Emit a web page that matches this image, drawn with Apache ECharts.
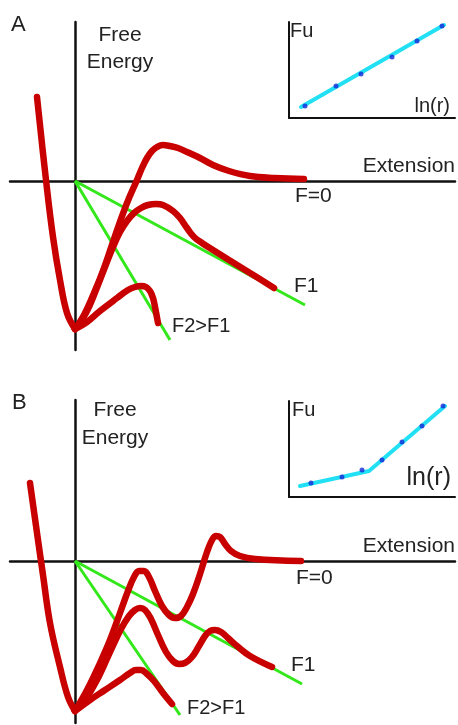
<!DOCTYPE html>
<html>
<head>
<meta charset="utf-8">
<script src="https://cdn.jsdelivr.net/npm/echarts@6/dist/echarts.min.js"></script>
<style>
  html, body { margin: 0; padding: 0; background: #fff; }
  #chart { width: 458px; height: 725px; }
</style>
</head>
<body>
<div id="chart"></div>
<script>
// panel A: free energy profiles (x = extension, y = free energy)
var wallA = [[-3.8, 8.4], [-2.9, 0.1], [-2.2, -5.6], [-1.5, -9.9], [-0.8, -13.2], [0, -14.8]];
var f0A = [[0, -14.8], [0.9, -13.4], [1.9, -11.2], [2.9, -8.7], [4.0, -5.5], [5.2, -2.2], [6.2, 0.1], [6.7, 1.3], [7.2, 2.3],
    [7.7, 3.0], [8.2, 3.4], [8.8, 3.6], [9.5, 3.5], [10.3, 3.3], [11.2, 2.9], [12.5, 2.3], [13.8, 1.6], [15.4, 1.0], [17.5, 0.5],
    [20, 0.3], [22.9, 0.2]];
var f1A = [[0, -14.8], [1.1, -13.2], [2.1, -10.9], [3.0, -8.6], [3.8, -6.6], [4.5, -5.1], [5.2, -4.0], [5.9, -3.2], [6.6, -2.7],
    [7.3, -2.4], [8.1, -2.3], [8.8, -2.4], [9.8, -3.0], [10.5, -3.7], [11.2, -4.7], [11.9, -5.6], [12.7, -6.2], [13.8, -6.9],
    [15.4, -7.9], [17.5, -9.2], [19.9, -10.7]];
var f2A = [[0, -14.8], [1.2, -14.1], [2.5, -13.0], [4.2, -11.7], [5.3, -10.9], [6.0, -10.6], [6.6, -10.5], [7.1, -10.6],
    [7.5, -11.0], [7.8, -11.7], [8.0, -12.6], [8.3, -14.2]];
var tiltF1A = [[0, 0], [23, -12.4]];
var tiltF2A = [[0, 0], [9.5, -15.9]];

// panel B
var wallB = [[-4.5, 7.8], [-3.7, 2.1], [-3.2, -1.4], [-2.5, -6.2], [-1.5, -10.6], [-0.7, -13.6], [0, -15.0]];
var f0B = [[0, -15.0], [1.2, -12.9], [2.5, -10.2], [3.5, -7.9], [4.5, -5.2], [5.3, -3.0], [5.9, -1.6], [6.4, -1.0], [6.9, -1.0],
    [7.4, -1.6], [8.0, -3.0], [8.7, -4.5], [9.4, -5.4], [10.0, -5.7], [10.6, -5.5], [11.2, -4.6], [11.8, -3.3], [12.5, -1.3],
    [13.2, 0.9], [13.7, 2.1], [14.1, 2.5], [14.5, 2.4], [15.0, 1.7], [15.6, 1.0], [16.5, 0.5], [18, 0.2], [22.6, 0]];
var f1B = [[0, -15.0], [1.0, -13.9], [2.2, -11.9], [3.5, -9.1], [4.6, -6.8], [5.4, -5.5], [6.0, -4.9], [6.5, -4.7], [7.0, -4.9],
    [7.6, -5.8], [8.3, -7.4], [9.1, -9.1], [9.8, -10.0], [10.4, -10.3], [11.0, -10.2], [11.7, -9.6], [12.4, -8.5], [13.0, -7.5],
    [13.5, -7.0], [14.0, -6.9], [14.6, -7.1], [15.3, -7.7], [16.2, -8.5], [17.5, -9.5], [19.7, -10.6]];
var f2B = [[0, -15.0], [1.5, -13.9], [3.0, -12.9], [4.5, -11.9], [5.5, -11.2], [6.1, -10.9], [6.6, -10.9], [7.2, -11.3],
    [7.9, -12.0], [8.8, -13.2], [9.7, -14.3]];
var tiltF1B = [[0, 0], [22.7, -12.3]];
var tiltF2B = [[0, 0], [10.5, -15.4]];

// insets: Fu vs ln(r)
var fitA = [[1.2, 1.1], [15.5, 9.3]];
var dotsA = [[1.6, 1.2], [4.7, 3.2], [7.2, 4.4], [10.3, 6.1], [12.8, 7.7], [15.3, 9.2]];
var fitB = [[1.1, 1.1], [8.0, 2.6], [15.6, 9.1]];
var dotsB = [[2.2, 1.4], [5.3, 2.0], [7.3, 2.7], [9.3, 3.7], [11.3, 5.5], [13.3, 7.1], [15.4, 9.1]];

var RED = '#c80000', GREEN = '#33e81a', CYAN = '#22e0f4', DOT = '#1428d8', INK = '#222';
var FONT = '"Liberation Sans", Arial, sans-serif';

var myChart = echarts.init(document.getElementById('chart'));

function mainAxisX(i) {
    return {
        gridIndex: i, type: 'value', min: -6.5, max: 38,
        axisLine: { show: true, onZero: true, lineStyle: { color: '#111', width: 2.5 } },
        axisTick: { show: false }, axisLabel: { show: false }, splitLine: { show: false }
    };
}
function mainAxisY(i, min, max) {
    return {
        gridIndex: i, type: 'value', min: min, max: max,
        axisLine: { show: true, onZero: true, lineStyle: { color: '#111', width: 2.5 } },
        axisTick: { show: false }, axisLabel: { show: false }, splitLine: { show: false }
    };
}
function insetAxis(i, max) {
    return {
        gridIndex: i, type: 'value', min: 0, max: max,
        axisLine: { show: true, onZero: false, lineStyle: { color: '#111', width: 2 } },
        axisTick: { show: false }, axisLabel: { show: false }, splitLine: { show: false }
    };
}
function redCurve(g, data) {
    return {
        type: 'line', xAxisIndex: g, yAxisIndex: g, data: data, smooth: 0.4, showSymbol: false, z: 4,
        lineStyle: { color: RED, width: 6.5, cap: 'round', join: 'round' }
    };
}
function greenLine(g, data) {
    return {
        type: 'line', xAxisIndex: g, yAxisIndex: g, data: data, showSymbol: false, z: 3,
        lineStyle: { color: GREEN, width: 3 }
    };
}
function fitLine(g, data) {
    return {
        type: 'line', xAxisIndex: g, yAxisIndex: g, data: data, showSymbol: false, z: 3,
        lineStyle: { color: CYAN, width: 4, cap: 'round' }
    };
}
function dots(g, data) {
    return {
        type: 'scatter', xAxisIndex: g, yAxisIndex: g, data: data, symbolSize: 5, z: 5,
        itemStyle: { color: DOT }
    };
}
// y is the vertical middle of the text
function txt(x, y, s, size, align, lh) {
    return {
        type: 'text', x: x, y: y, z: 10,
        style: { text: s, fill: INK, font: size + 'px ' + FONT, textAlign: align || 'left', textVerticalAlign: 'middle', lineHeight: lh || size }
    };
}

var option = {
    animation: false,
    backgroundColor: '#fff',
    grid: [
        { left: 10, top: 22, width: 445, height: 328 },
        { left: 10, top: 400, width: 445, height: 323 },
        { left: 289, top: 22, width: 166, height: 96 },
        { left: 289, top: 401, width: 166, height: 96 }
    ],
    xAxis: [mainAxisX(0), mainAxisX(1), insetAxis(2, 16.6), insetAxis(3, 16.6)],
    yAxis: [mainAxisY(0, -16.9, 15.9), mainAxisY(1, -16.2, 16.1), insetAxis(2, 9.6), insetAxis(3, 9.6)],
    series: [
        greenLine(0, tiltF1A), greenLine(0, tiltF2A),
        redCurve(0, wallA), redCurve(0, f0A), redCurve(0, f1A), redCurve(0, f2A),
        greenLine(1, tiltF1B), greenLine(1, tiltF2B),
        redCurve(1, wallB), redCurve(1, f0B), redCurve(1, f1B), redCurve(1, f2B),
        fitLine(2, fitA), dots(2, dotsA),
        fitLine(3, fitB), dots(3, dotsB)
    ],
    graphic: [
        txt(11, 25, 'A', 22),
        txt(120, 49, 'Free\nEnergy', 21, 'center', 27),
        txt(455, 166, 'Extension', 21, 'right'),
        txt(295, 196, 'F=0', 21),
        txt(294, 286, 'F1', 21),
        txt(172, 326, 'F2>F1', 20),
        txt(290, 31, 'Fu', 20),
        txt(450, 106, 'ln(r)', 20, 'right'),

        txt(12, 403, 'B', 22),
        txt(115, 424, 'Free\nEnergy', 21, 'center', 27.5),
        txt(455, 546, 'Extension', 21, 'right'),
        txt(296, 578, 'F=0', 21),
        txt(291, 665, 'F1', 21),
        txt(187, 708, 'F2>F1', 20),
        txt(292, 410, 'Fu', 20),
        txt(451, 478, 'ln(r)', 25, 'right')
    ]
};

myChart.setOption(option);
</script>
</body>
</html>
